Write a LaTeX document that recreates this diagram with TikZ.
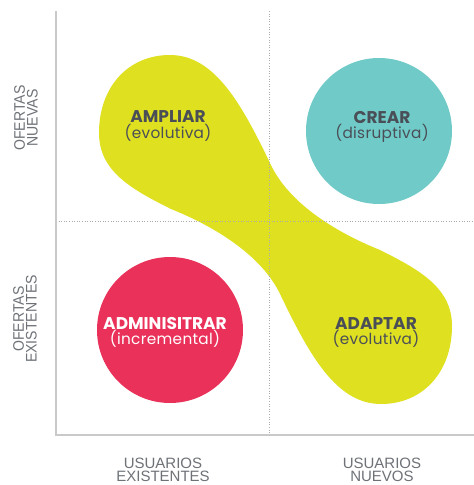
\documentclass[tikz,border=0pt]{standalone}
\usepackage{fontspec}
\setmainfont{Poppins}
\newfontfamily\axisfont{Liberation Sans}
\newfontfamily\axisfontn{Liberation Sans}[FakeStretch=0.92]
\definecolor{lime}{HTML}{DFE120}
\definecolor{tealc}{HTML}{70CBC8}
\definecolor{rosec}{HTML}{E9315A}
\definecolor{txtc}{HTML}{4A4E57}
\definecolor{axisc}{HTML}{C9C9C9}
\definecolor{lblc}{HTML}{6E7277}
\tikzset{
  quad/.style={align=center, text=txtc, inner sep=0pt},
  axlbl/.style={align=center, text=lblc, inner sep=0pt, font=\axisfont\fontsize{15}{13.5}\selectfont},
  axlblr/.style={align=center, text=lblc, inner sep=0pt, rotate=90, font=\axisfontn\fontsize{15.3}{12.6}\selectfont},
  guide/.style={draw=gray!65, line width=0.9pt, dash pattern=on 1pt off 1.6pt},
}
\newcommand{\qlabel}[2]{{\fontsize{17}{14}\selectfont\bfseries #1}\\{\fontsize{15.3}{13}\selectfont\addfontfeatures{LetterSpace=2}#2}}
\begin{document}
\begin{tikzpicture}[x=1pt,y=-1pt]
\useasboundingbox (0,0) rectangle (474,485);
\fill[white] (0,0) rectangle (474,485);
% yellow shape (point-symmetric bone)
\fill[lime] (99,133)
  .. controls (99,87) and (128,55) .. (170,55)
  .. controls (215,55) and (242,105) .. (270,163)
  .. controls (289,205) and (340,234) .. (380,250)
  .. controls (420,270) and (452,288) .. (452,326)
  .. controls (452,372) and (423,404) .. (381,404)
  .. controls (336,404) and (309,354) .. (281,296)
  .. controls (262,254) and (211,225) .. (171,209)
  .. controls (131,189) and (99,171) .. (99,133) -- cycle;
% circles
\node[circle, fill=tealc, minimum size=146pt, inner sep=0pt] (crearc) at (379,131) {};
\node[circle, fill=rosec, minimum size=146pt, inner sep=0pt] (adminc) at (170,330) {};
% axes
\coordinate (ytop) at (56,11);
\coordinate (orig) at (56,435);
\coordinate (xend) at (474,435);
\coordinate (vtop) at (269,11);
\coordinate (vbot) at (269,435);
\coordinate (hl) at (56,221);
\coordinate (hr) at (474,221);
\draw[guide] (vtop) -- (vbot);
\draw[guide] (hl) -- (hr);
\draw[axisc, line width=2pt] (ytop) -- (orig) -- (xend);
% quadrant labels
\node[quad] (ampliar) at (168,126) {\qlabel{AMPLIAR}{(evolutiva)}};
\node[quad] (crear) at (382,127) {\qlabel{CREAR}{(disruptiva)}};
\node[quad, text=white] (admin) at (165,332.5) {\qlabel{ADMINISITRAR}{(incremental)}};
\node[quad] (adaptar) at (376,332.5) {\qlabel{ADAPTAR}{(evolutiva)}};
% axis labels
\node[axlblr] (ofn) at (26,118) {OFERTAS\\NUEVAS};
\node[axlblr] (ofe) at (25,319) {OFERTAS\\EXISTENTES};
\node[axlbl] (ue) at (163,470) {USUARIOS\\EXISTENTES};
\node[axlbl] (un) at (382,470) {USUARIOS\\NUEVOS};
\end{tikzpicture}
\end{document}
